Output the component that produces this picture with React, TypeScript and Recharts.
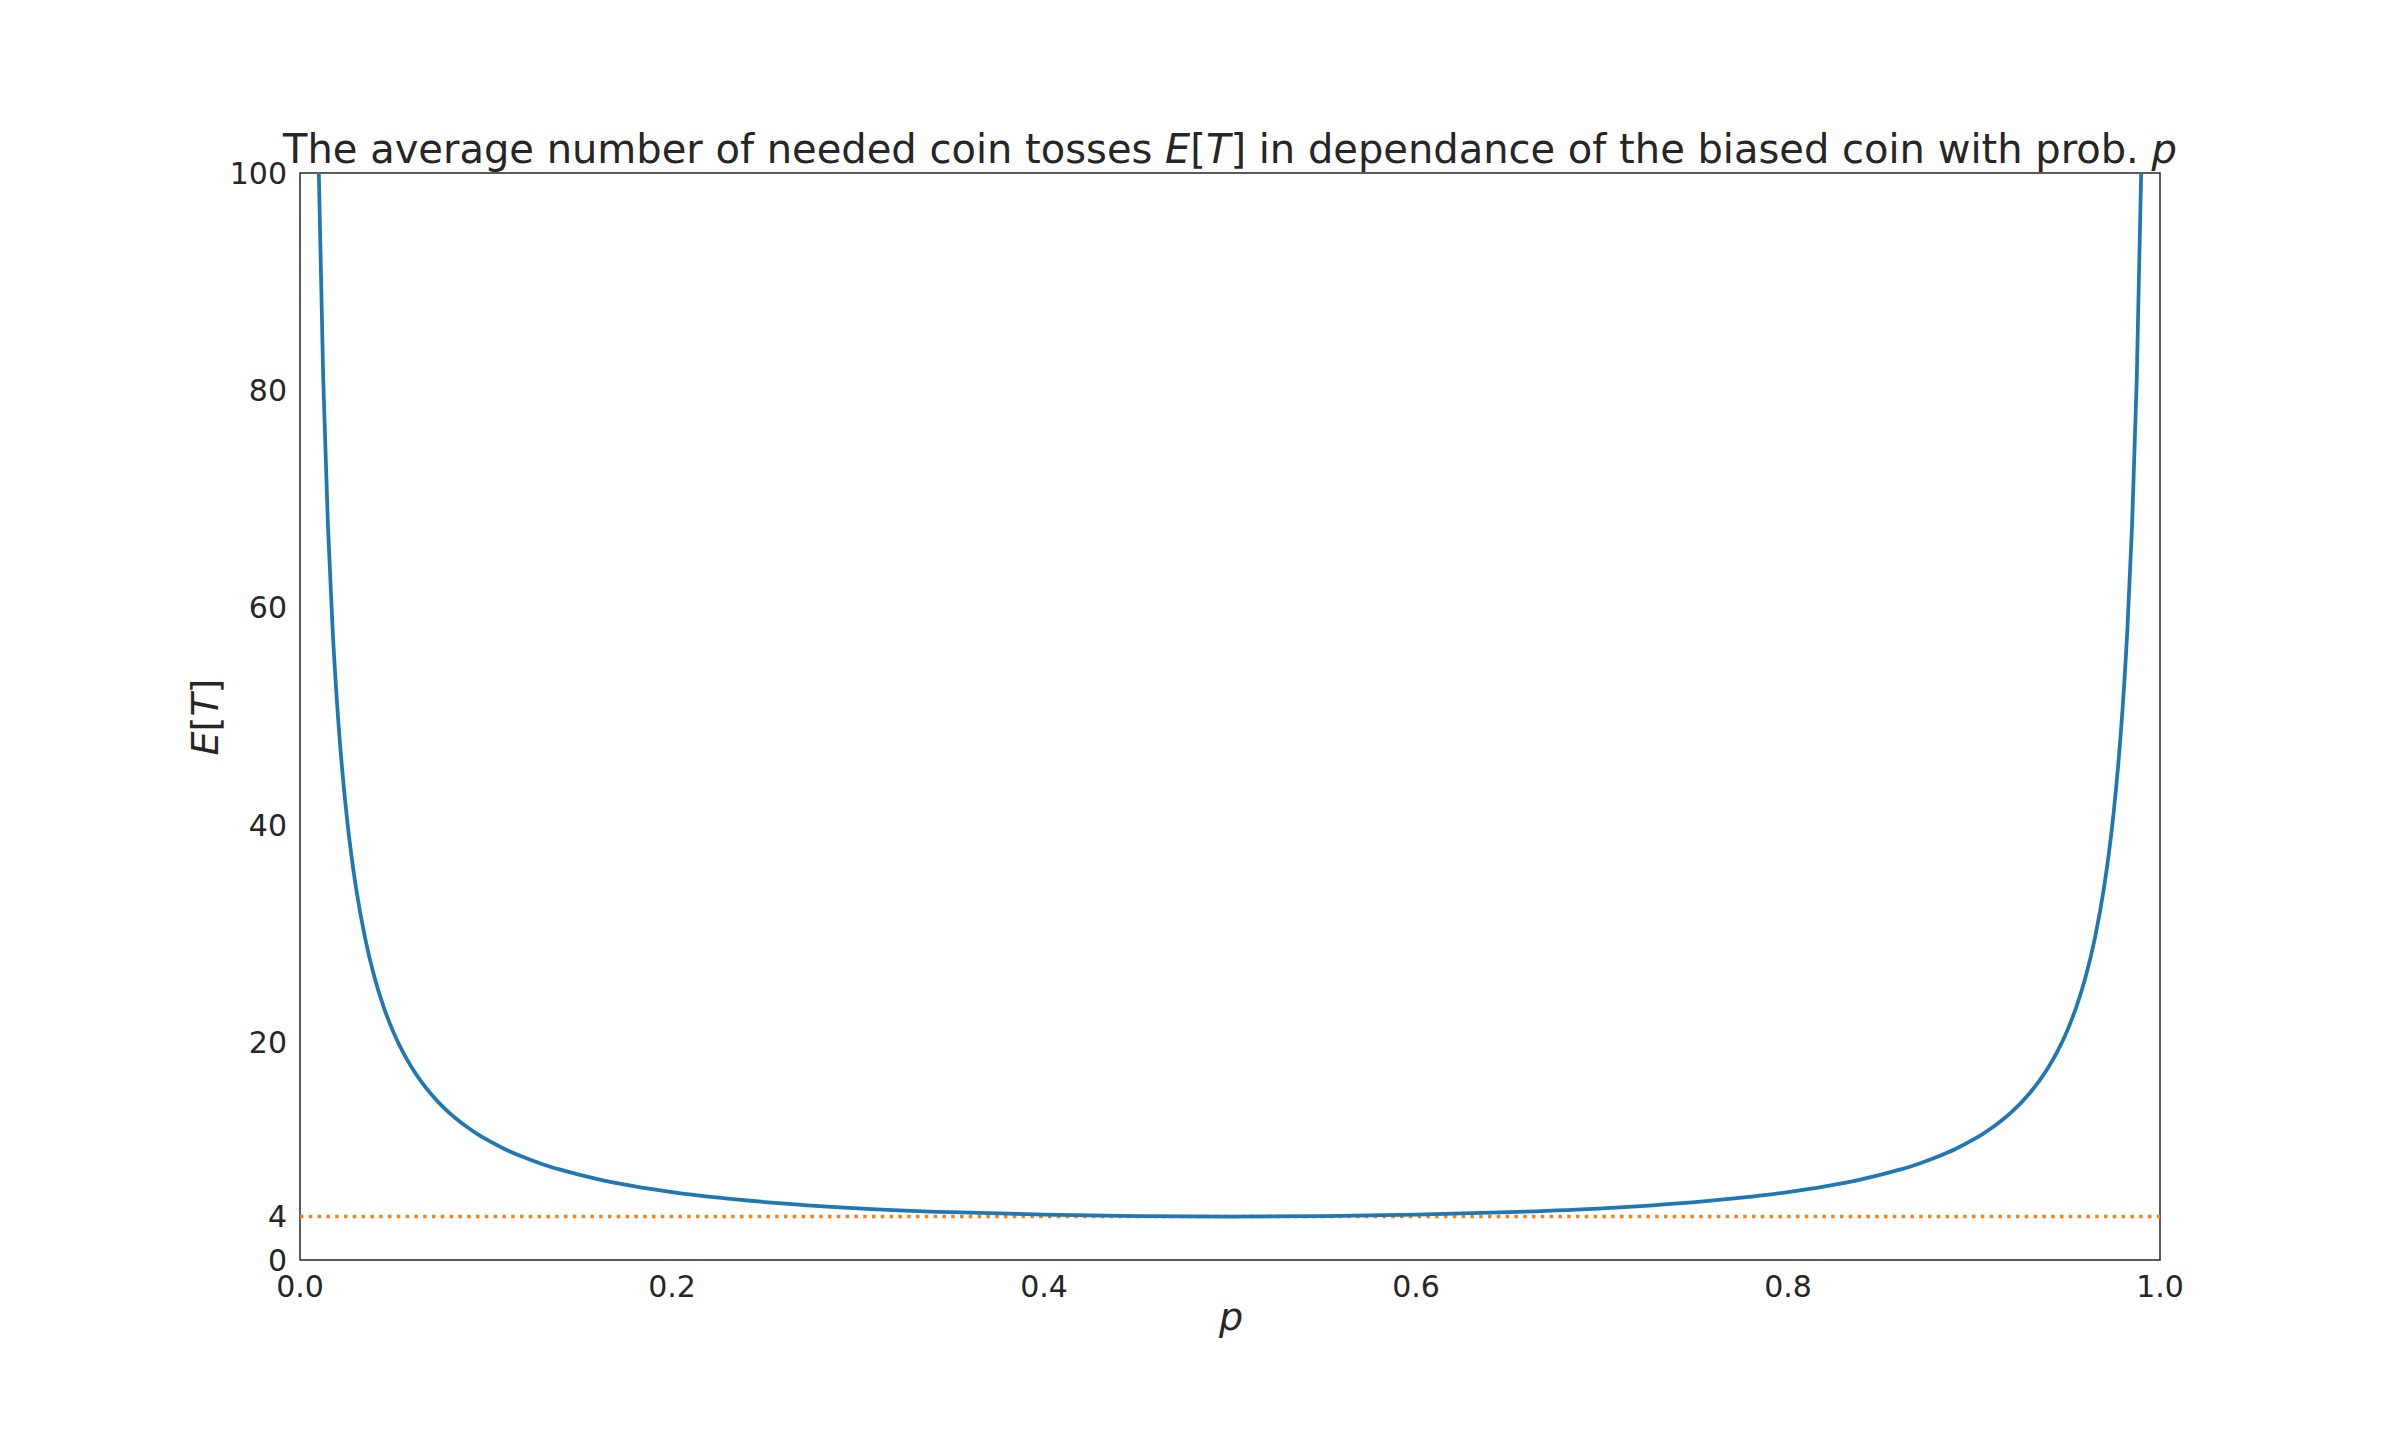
import { LineChart, Line, XAxis, YAxis, ReferenceArea } from 'recharts'

// p values and the average number of tosses
const pValues = [
  0.01, 0.0125, 0.015, 0.0175, 0.02, 0.0225, 0.025, 0.0275, 0.03, 0.035, 0.04, 0.045, 0.05, 0.055,
  0.06, 0.065, 0.07, 0.075, 0.08, 0.085, 0.09, 0.095, 0.1, 0.11, 0.12, 0.13, 0.14, 0.16, 0.18, 0.2,
  0.225, 0.25, 0.3, 0.35, 0.4, 0.45, 0.5, 0.55, 0.6, 0.65, 0.7, 0.75, 0.775, 0.8, 0.82, 0.84, 0.86,
  0.87, 0.88, 0.89, 0.9, 0.905, 0.91, 0.915, 0.92, 0.925, 0.93, 0.935, 0.94, 0.945, 0.95, 0.955,
  0.96, 0.965, 0.97, 0.9725, 0.975, 0.9775, 0.98, 0.9825, 0.985, 0.9875, 0.99,
]
const expectedTosses = [
  101.01, 81.01, 67.68, 58.16, 51.02, 45.47, 41.03, 37.39, 34.36, 29.61, 26.04, 23.27, 21.05, 19.24,
  17.73, 16.45, 15.36, 14.41, 13.59, 12.86, 12.21, 11.63, 11.11, 10.21, 9.47, 8.84, 8.31, 7.44, 6.78, 6.25,
  5.73, 5.33, 4.76, 4.4, 4.17, 4.04, 4.0, 4.04, 4.17, 4.4, 4.76, 5.33, 5.73, 6.25, 6.78, 7.44, 8.31,
  8.84, 9.47, 10.21, 11.11, 11.63, 12.21, 12.86, 13.59, 14.41, 15.36, 16.45, 17.73, 19.24, 21.05, 23.27,
  26.04, 29.61, 34.36, 37.39, 41.03, 45.47, 51.02, 58.16, 67.68, 81.01, 101.01,
]

// dotted reference at E[T] = 4
const refP = [0, 1]
const refValues = [4, 4]

const xTicks = [0, 0.2, 0.4, 0.6, 0.8, 1.0]
const yTicks = [0, 4, 20, 40, 60, 80, 100]

const curve = pValues.map((p, i) => ({ p, et: expectedTosses[i] }))
const refLine = refP.map((p, i) => ({ p, et: refValues[i] }))

const font = 'DejaVu Sans'
const ink = '#262626'
const tickStyle = { fontSize: 30, fill: ink, fontFamily: font }

export default function App() {
  return (
    <div style={{ position: 'absolute', left: 0, top: 0, width: 2400, height: 1440, background: '#fff' }}>
      <LineChart
        width={2400}
        height={1440}
        margin={{ top: 173, right: 240, bottom: 120, left: 220 }}
        style={{ fontFamily: font }}
      >
        <XAxis
          dataKey="p"
          type="number"
          domain={[0, 1]}
          ticks={xTicks}
          tickFormatter={(v: number) => v.toFixed(1)}
          tick={tickStyle}
          tickLine={false}
          axisLine={false}
          tickSize={0}
          tickMargin={16}
          height={60}
          allowDuplicatedCategory={false}
        />
        <YAxis
          type="number"
          domain={[0, 100]}
          ticks={yTicks}
          allowDataOverflow
          tick={tickStyle}
          tickLine={false}
          axisLine={false}
          tickSize={0}
          tickMargin={13}
          width={80}
        />
        <ReferenceArea x1={0} x2={1} y1={0} y2={100} fill="none" stroke={ink} strokeWidth={1.5} />
        <Line
          data={refLine}
          dataKey="et"
          type="linear"
          stroke="#ff7f0e"
          strokeWidth={3.5}
          strokeDasharray="3.5 5.3"
          dot={false}
          activeDot={false}
          isAnimationActive={false}
        />
        <Line
          data={curve}
          dataKey="et"
          type="monotone"
          stroke="#1f77b4"
          strokeWidth={3.75}
          dot={false}
          activeDot={false}
          isAnimationActive={false}
        />
      </LineChart>
      <svg
        width={2400}
        height={1440}
        style={{ position: 'absolute', left: 0, top: 0, pointerEvents: 'none' }}
      >
        <text x={1230} y={163} textAnchor="middle" fontFamily={font} fontSize={40} fill={ink}>
          The average number of needed coin tosses <tspan fontStyle="italic">E</tspan>[
          <tspan fontStyle="italic">T</tspan>] in dependance of the biased coin with prob.{' '}
          <tspan fontStyle="italic">p</tspan>
        </text>
        <text x={1231} y={1330} textAnchor="middle" fontFamily={font} fontSize={38} fill={ink} fontStyle="italic">
          p
        </text>
        <text
          x={0}
          y={0}
          transform="translate(218 717) rotate(-90)"
          textAnchor="middle"
          fontFamily={font}
          fontSize={38}
          fill={ink}
        >
          <tspan fontStyle="italic">E</tspan>[<tspan fontStyle="italic">T</tspan>]
        </text>
      </svg>
    </div>
  )
}
